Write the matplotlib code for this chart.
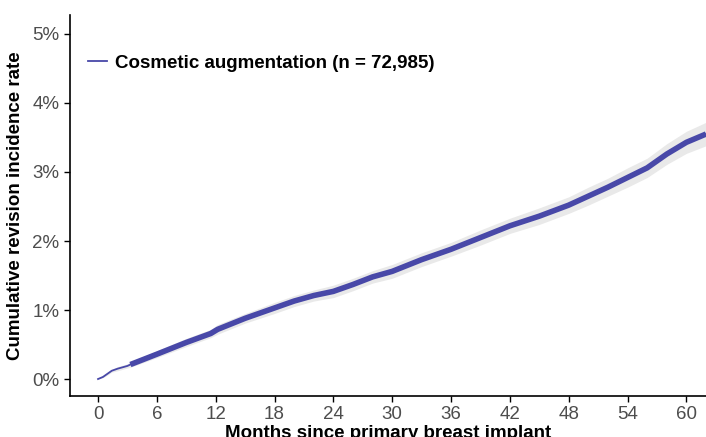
import matplotlib.pyplot as plt
import numpy as np

plt.rcParams['font.family'] = ['Liberation Sans', 'DejaVu Sans']

# cumulative revision incidence (%) by months since implant
months = [0, 0.5, 1.0, 1.4, 2.0, 3.0, 3.3, 6, 9, 11.5, 12.2, 15, 18, 20, 22, 24, 26,
          28, 30, 33, 36, 39, 42, 45, 48, 50, 52, 54, 56, 58, 60, 62]
rate = [0.0, 0.03, 0.08, 0.12, 0.15, 0.19, 0.21, 0.36, 0.53, 0.66, 0.72, 0.88, 1.03,
        1.13, 1.21, 1.27, 1.37, 1.48, 1.56, 1.73, 1.88, 2.05, 2.22, 2.36, 2.52, 2.65,
        2.78, 2.92, 3.06, 3.26, 3.43, 3.55]
ci_half = [0.0, 0.01, 0.02, 0.02, 0.03, 0.03, 0.04, 0.05, 0.06, 0.06, 0.07, 0.07, 0.08,
           0.08, 0.08, 0.09, 0.09, 0.09, 0.10, 0.10, 0.10, 0.11, 0.11, 0.12, 0.12, 0.13,
           0.13, 0.14, 0.14, 0.15, 0.16, 0.17]
label = 'Cosmetic augmentation (n = 72,985)'
x_ticks = [0, 6, 12, 18, 24, 30, 36, 42, 48, 54, 60]
y_ticks = [0, 1, 2, 3, 4, 5]

color = '#4848a8'
months = np.array(months)
rate = np.array(rate)
ci_half = np.array(ci_half)

fig = plt.figure(figsize=(7.06, 4.37), dpi=100)
ax = fig.add_axes([70/706, 41/437, 636/706, 381/437])

ax.fill_between(months, rate - ci_half, rate + ci_half, color='#e9e9e9', lw=0)
ax.plot(months, rate, color=color, lw=1.3, label=label)
# dense censoring marks make the curve look thick after the first months
dense = months >= 3.3
ax.plot(months[dense], rate[dense], color=color, lw=4.0, solid_capstyle='butt')

ax.set_xlim(-2.86, 62.0)
ax.set_ylim(-0.246, 5.275)
ax.set_xticks(x_ticks)
ax.set_yticks(y_ticks)
ax.set_yticklabels([f'{v}%' for v in y_ticks])
ax.tick_params(labelsize=13.5, labelcolor='#4d4d4d', length=4, width=1, color='black')
for s in ['top', 'right']:
    ax.spines[s].set_visible(False)
for s in ['left', 'bottom']:
    ax.spines[s].set_linewidth(1.2)

ax.set_xlabel('Months since primary breast implant', fontsize=13.5, fontweight='bold', labelpad=1)
ax.set_ylabel('Cumulative revision incidence rate', fontsize=13.5, fontweight='bold', labelpad=6)

leg = ax.legend(loc='upper left', bbox_to_anchor=(0.002, 0.94), frameon=False,
                handlelength=1.0, handletextpad=0.45, prop={'size': 13.5, 'weight': 'bold'})

fig.savefig('out.png', dpi=100)
